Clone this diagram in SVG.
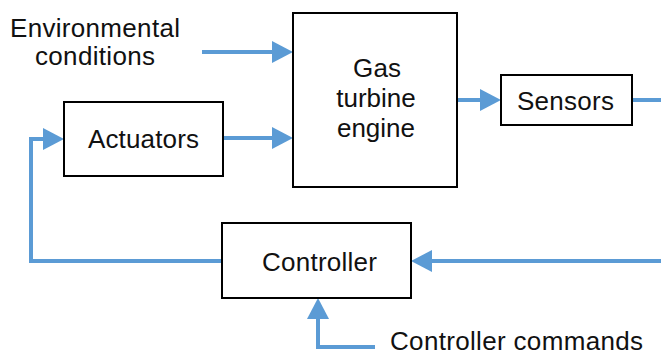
<svg xmlns="http://www.w3.org/2000/svg" width="661" height="356" viewBox="0 0 661 356">
<style>
.box{fill:#fff;stroke:#000;stroke-width:2}
.lbl{font-family:"Liberation Sans",Arial,sans-serif;font-size:26px;fill:#111}
.c{text-anchor:middle}
.wire{fill:none;stroke:#5b9bd5;stroke-width:4}
</style>
<defs>
<marker id="ah" markerUnits="userSpaceOnUse" markerWidth="22" markerHeight="22" refX="1" refY="11" orient="auto">
<path d="M0,0 L21,11 L0,22 z" fill="#5b9bd5"/>
</marker>
</defs>
<rect width="661" height="356" fill="#fff"/>
<g id="connectors">
<path class="wire" d="M202,52 H273" marker-end="url(#ah)"/>
<path class="wire" d="M223,138 H273" marker-end="url(#ah)"/>
<path class="wire" d="M222,261 H31 V139 H44" marker-end="url(#ah)"/>
<path class="wire" d="M457,100 H481" marker-end="url(#ah)"/>
<path class="wire" d="M632,100 H661"/>
<path class="wire" d="M661,261 H431" marker-end="url(#ah)"/>
<path class="wire" d="M375,347 H318 V318" marker-end="url(#ah)"/>
</g>
<g id="env">
<text class="lbl" x="10" y="37" textLength="170">Environmental</text>
<text class="lbl" x="35" y="65" textLength="120">conditions</text>
</g>
<g id="engine">
<rect class="box" x="293" y="13" width="164" height="174"/>
<text class="lbl" x="353" y="77" textLength="48">Gas</text>
<text class="lbl c" x="376" y="107">turbine</text>
<text class="lbl c" x="376" y="137">engine</text>
</g>
<g id="actuators">
<rect class="box" x="64" y="102" width="159" height="74"/>
<text class="lbl" x="88" y="148" textLength="111">Actuators</text>
</g>
<g id="sensors">
<rect class="box" x="501" y="75" width="131" height="50"/>
<text class="lbl" x="517" y="110" textLength="97">Sensors</text>
</g>
<g id="controller">
<rect class="box" x="222" y="223" width="189" height="75"/>
<text class="lbl" x="262" y="271" textLength="115">Controller</text>
</g>
<g id="commands">
<text class="lbl" x="390" y="350" font-size="25" textLength="253">Controller commands</text>
</g>
</svg>
